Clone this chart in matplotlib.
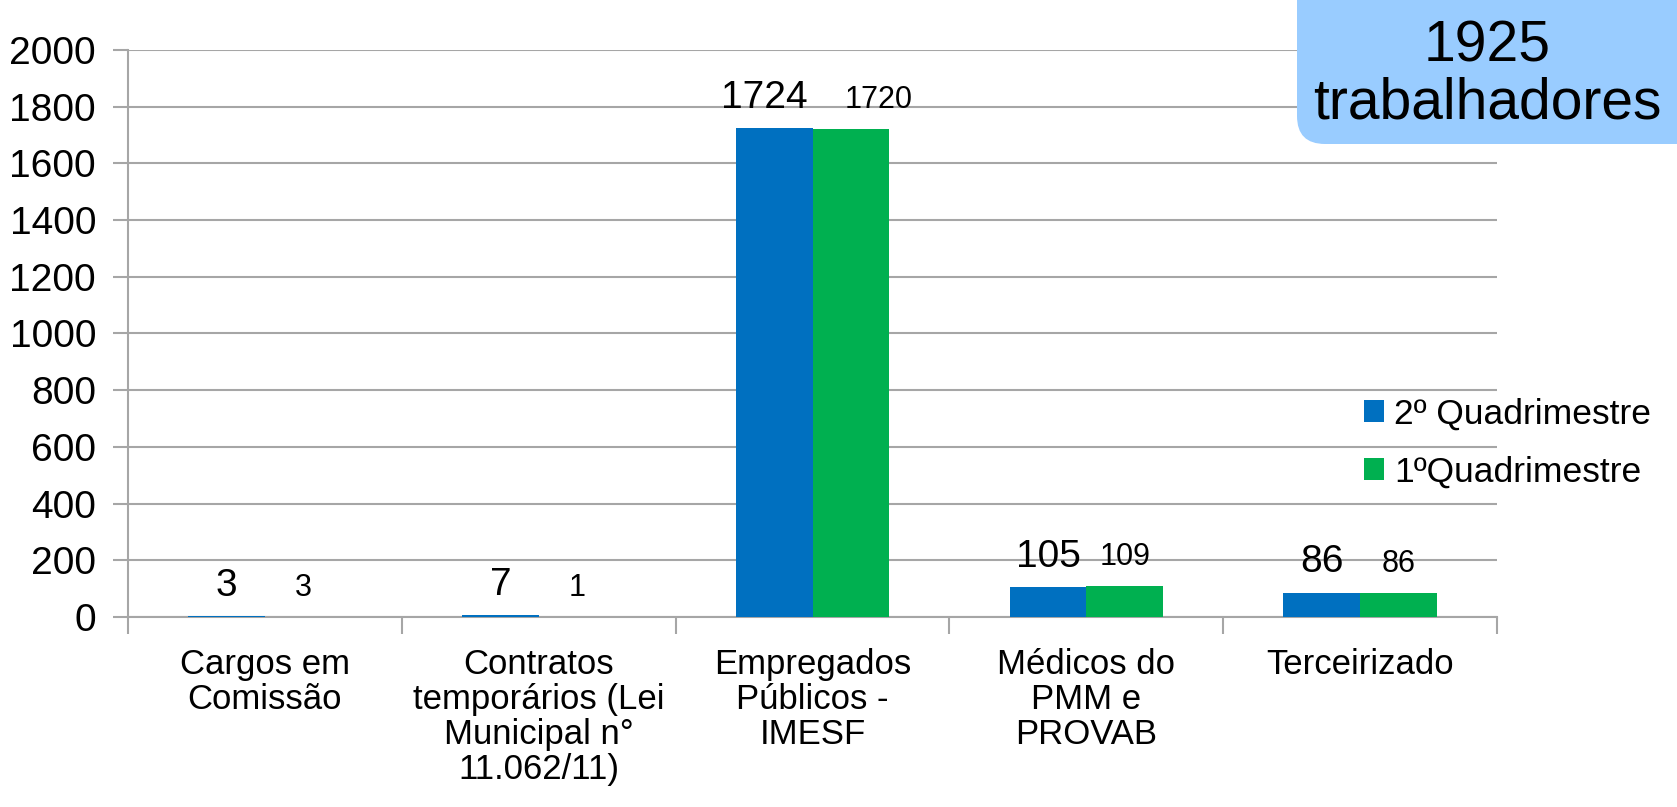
import matplotlib
matplotlib.use("Agg")
import matplotlib.pyplot as plt
import numpy as np
from matplotlib.patches import FancyBboxPatch
from matplotlib.ticker import FixedLocator, MultipleLocator

plt.rcParams['font.family'] = ['Liberation Sans', 'DejaVu Sans']

categories = ["Cargos em\nComissão",
              "Contratos\ntemporários (Lei\nMunicipal n°\n11.062/11)",
              "Empregados\nPúblicos -\nIMESF",
              "Médicos do\nPMM e\nPROVAB",
              "Terceirizado"]
series_names = ["2º Quadrimestre", "1ºQuadrimestre"]
q2_values = [3, 7, 1724, 105, 86]
q1_values = [0, 1, 1720, 109, 86]
q1_labels = ["3", "1", "1720", "109", "86"]
q2_labels = ["3", "7", "1724", "105", "86"]
box_text = "1925\ntrabalhadores"

blue = "#0070C0"
green = "#00B050"
grid_c = "#A6A6A6"

fig = plt.figure(figsize=(16.77, 8.07), dpi=100)
ax = fig.add_axes([128/1677, 1-617/807, (1497-128)/1677, (617-50)/807])

x = np.arange(len(categories))
w = 0.28
b1 = ax.bar(x - w/2, q2_values, w, color=blue, label=series_names[0], zorder=3)
b2 = ax.bar(x + w/2, q1_values, w, color=green, label=series_names[1], zorder=3)

# small horizontal nudges (points) to avoid overlapping labels, as in the original
q2_dx = [0, 0, -7, 0, 0]
q1_dx = [0, 0, 20, 0, 0]

for xi, v, lab, dx in zip(x, q2_values, q2_labels, q2_dx):
    ax.annotate(lab, (xi - w/2, v), xytext=(dx, 9), textcoords='offset points',
                ha='center', va='bottom', fontsize=28)
for xi, v, lab, dx in zip(x, q1_values, q1_labels, q1_dx):
    ax.annotate(lab, (xi + w/2, v), xytext=(dx, 10), textcoords='offset points',
                ha='center', va='bottom', fontsize=22)

ax.set_ylim(0, 2000)
ax.set_xlim(-0.5, len(categories) - 0.5)
ax.yaxis.set_major_locator(MultipleLocator(200))
ax.grid(axis='y', color=grid_c, linewidth=1.5, zorder=0)
ax.set_axisbelow(True)

ax.set_xticks(x)
ax.set_xticklabels(categories, fontsize=25, linespacing=1.08, va='top')
ax.xaxis.set_minor_locator(FixedLocator(np.arange(-0.5, len(categories), 1.0)))
ax.tick_params(axis='x', which='major', length=0, pad=22)
ax.tick_params(axis='x', which='minor', length=12, color=grid_c, width=1.5)
ax.tick_params(axis='y', labelsize=28, length=11, color=grid_c, width=1.5, pad=12)

for s in ['top', 'right']:
    ax.spines[s].set_visible(False)
for s in ['left', 'bottom']:
    ax.spines[s].set_color(grid_c)
    ax.spines[s].set_linewidth(1.5)

leg = fig.legend(handles=[b1, b2], labels=series_names, loc='center left',
                 bbox_to_anchor=(1350/1677, 1 - 443/807), frameon=False,
                 fontsize=25.5, handlelength=0.55, handleheight=0.55,
                 handletextpad=0.3, labelspacing=0.7, borderaxespad=0)

box = FancyBboxPatch((12.97, 6.63), 5.0, 2.0,
                     boxstyle="round,pad=0,rounding_size=0.28",
                     transform=fig.dpi_scale_trans, facecolor="#99CCFF",
                     edgecolor='none', zorder=5)
fig.patches.append(box)
fig.text(1487/1677, 1 - 75/807, box_text, ha='center', va='center',
         fontsize=41, linespacing=1.05, zorder=6)

fig.savefig("out.png", dpi=100)
